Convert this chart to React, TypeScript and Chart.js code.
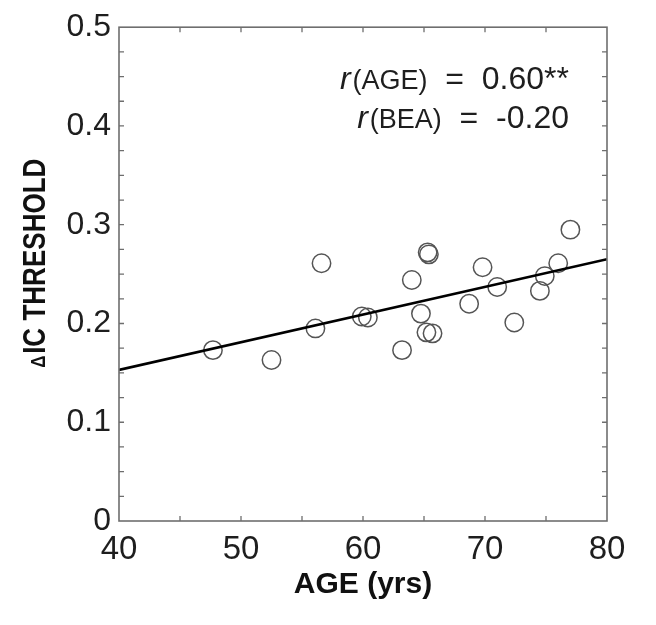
import { useEffect, useRef } from 'react';
import { Chart, registerables } from 'chart.js';

Chart.register(...registerables);

const FONT = '"Liberation Sans", Arial, sans-serif';

// Data
const ages = [47.7, 52.5, 56.1, 56.6, 59.9, 60.4, 63.2, 64.0, 64.75, 65.3, 65.4, 65.2, 65.7, 68.7, 69.8, 71.0, 72.4, 74.5, 74.9, 76.0, 77.0];
const thresholds = [0.173, 0.163, 0.195, 0.261, 0.207, 0.206, 0.173, 0.244, 0.21, 0.272, 0.27, 0.191, 0.19, 0.22, 0.257, 0.237, 0.201, 0.233, 0.248, 0.261, 0.295];

// Regression line end points
const fitAges = [40, 80];
const fitThresholds = [0.153, 0.265];

// Ticks
const xTicks = [40, 50, 60, 70, 80];
const yTicks = [0, 0.1, 0.2, 0.3, 0.4, 0.5];
const xMinorTicks = [45, 50, 55, 60, 65, 70, 75];
const yMinorTicks = [0.025, 0.05, 0.075, 0.1, 0.125, 0.15, 0.175, 0.2, 0.225, 0.25, 0.275, 0.3, 0.325, 0.35, 0.375, 0.4, 0.425, 0.45, 0.475];

const annotationLines = [
  { r: 'r', label: '(AGE)', value: '  =  0.60**' },
  { r: 'r', label: '(BEA)', value: '  =  -0.20' },
];

const frameColor = '#6e6e6e';
const textColor = '#1e1e1e';

const framePlugin = {
  id: 'frameAndText',
  afterDraw(chart: any) {
    const { ctx, chartArea } = chart;
    const { left, right, top, bottom } = chartArea;
    const xs = chart.scales.x;
    const ys = chart.scales.y;
    ctx.save();
    ctx.strokeStyle = frameColor;
    ctx.lineWidth = 1.6;
    ctx.strokeRect(left, top, right - left, bottom - top);
    ctx.lineWidth = 1.3;
    const tl = 5;
    ctx.beginPath();
    xMinorTicks.forEach((v) => {
      const px = xs.getPixelForValue(v);
      ctx.moveTo(px, bottom);
      ctx.lineTo(px, bottom - tl);
      ctx.moveTo(px, top);
      ctx.lineTo(px, top + tl);
    });
    yMinorTicks.forEach((v) => {
      const py = ys.getPixelForValue(v);
      ctx.moveTo(left, py);
      ctx.lineTo(left + tl, py);
      ctx.moveTo(right, py);
      ctx.lineTo(right - tl, py);
    });
    ctx.stroke();

    // annotation
    ctx.fillStyle = textColor;
    ctx.textBaseline = 'alphabetic';
    ctx.textAlign = 'left';
    const rightX = right - 38;
    const baselines = [top + 62, top + 101];
    annotationLines.forEach((line, i) => {
      const fR = `italic 32px ${FONT}`;
      const fL = `27px ${FONT}`;
      const fV = `32px ${FONT}`;
      ctx.font = fR;
      const wR = ctx.measureText(line.r).width;
      ctx.font = fL;
      const wL = ctx.measureText(line.label).width;
      ctx.font = fV;
      const wV = ctx.measureText(line.value).width;
      let x = rightX - (wR + wL + wV + 2);
      const y = baselines[i];
      ctx.font = fR;
      ctx.fillText(line.r, x, y);
      x += wR + 2;
      ctx.font = fL;
      ctx.fillText(line.label, x, y);
      x += wL;
      ctx.font = fV;
      ctx.fillText(line.value, x, y);
    });

    // y title with small delta (condensed bold)
    ctx.save();
    ctx.translate(45, ys.getPixelForValue(0.25) - 11);
    ctx.rotate(-Math.PI / 2);
    ctx.scale(0.84, 1);
    const fD = `bold 20px ${FONT}`;
    const fT = `bold 31px ${FONT}`;
    ctx.font = fD;
    const wD = ctx.measureText('\u0394').width;
    ctx.font = fT;
    const wT = ctx.measureText('IC THRESHOLD').width;
    const start = -(wD + 2 + wT) / 2;
    ctx.fillStyle = '#111';
    ctx.font = fD;
    ctx.fillText('\u0394', start, 0);
    ctx.font = fT;
    ctx.fillText('IC THRESHOLD', start + wD + 2, 0);
    ctx.restore();

    ctx.restore();
  },
};

export default function App() {
  const ref = useRef<HTMLCanvasElement>(null);
  useEffect(() => {
    document.body.style.margin = '0';
    const chart = new Chart(ref.current as HTMLCanvasElement, {
      type: 'scatter',
      data: {
        datasets: [
          {
            type: 'line',
            data: fitAges.map((x, i) => ({ x, y: fitThresholds[i] })),
            borderColor: '#000',
            borderWidth: 2.6,
            pointRadius: 0,
            fill: false,
            order: 0,
          } as any,
          {
            type: 'scatter',
            data: ages.map((x, i) => ({ x, y: thresholds[i] })),
            pointRadius: 9.2,
            pointBorderWidth: 1.5,
            borderColor: '#555',
            pointBorderColor: '#555',
            backgroundColor: 'rgba(0,0,0,0)',
            pointBackgroundColor: 'rgba(0,0,0,0)',
            order: 1,
          } as any,
        ],
      },
      options: {
        responsive: false,
        animation: false,
        layout: { padding: { top: 24, right: 49, left: 0, bottom: 0 } },
        plugins: { legend: { display: false }, tooltip: { enabled: false } },
        scales: {
          x: {
            type: 'linear',
            min: 40,
            max: 80,
            afterBuildTicks: (scale: any) => {
              scale.ticks = xTicks.map((v) => ({ value: v }));
            },
            afterFit: (scale: any) => {
              scale.height = 104;
            },
            grid: { display: false, drawTicks: false },
            border: { display: false },
            ticks: {
              font: { family: FONT, size: 33 },
              color: textColor,
              padding: 9,
              maxRotation: 0,
              autoSkip: false,
            },
            title: {
              display: true,
              text: 'AGE (yrs)',
              font: { family: FONT, size: 30, weight: 'bold' },
              color: '#111',
              padding: { top: 0, bottom: 22 },
            },
          },
          y: {
            type: 'linear',
            min: 0,
            max: 0.5,
            afterBuildTicks: (scale: any) => {
              scale.ticks = yTicks.map((v) => ({ value: v }));
            },
            afterFit: (scale: any) => {
              scale.width = 119;
            },
            grid: { display: false, drawTicks: false },
            border: { display: false },
            ticks: {
              font: { family: FONT, size: 32 },
              color: textColor,
              padding: 8,
              autoSkip: false,
              callback: (v: any) => (Number(v) === 0 ? '0' : Number(v).toFixed(1)),
            },
          },
        },
      },
      plugins: [framePlugin],
    });
    return () => chart.destroy();
  }, []);
  return (
    <div style={{ width: 656, height: 625, background: '#fff' }}>
      <canvas ref={ref} width={656} height={625} style={{ display: 'block' }} />
    </div>
  );
}
